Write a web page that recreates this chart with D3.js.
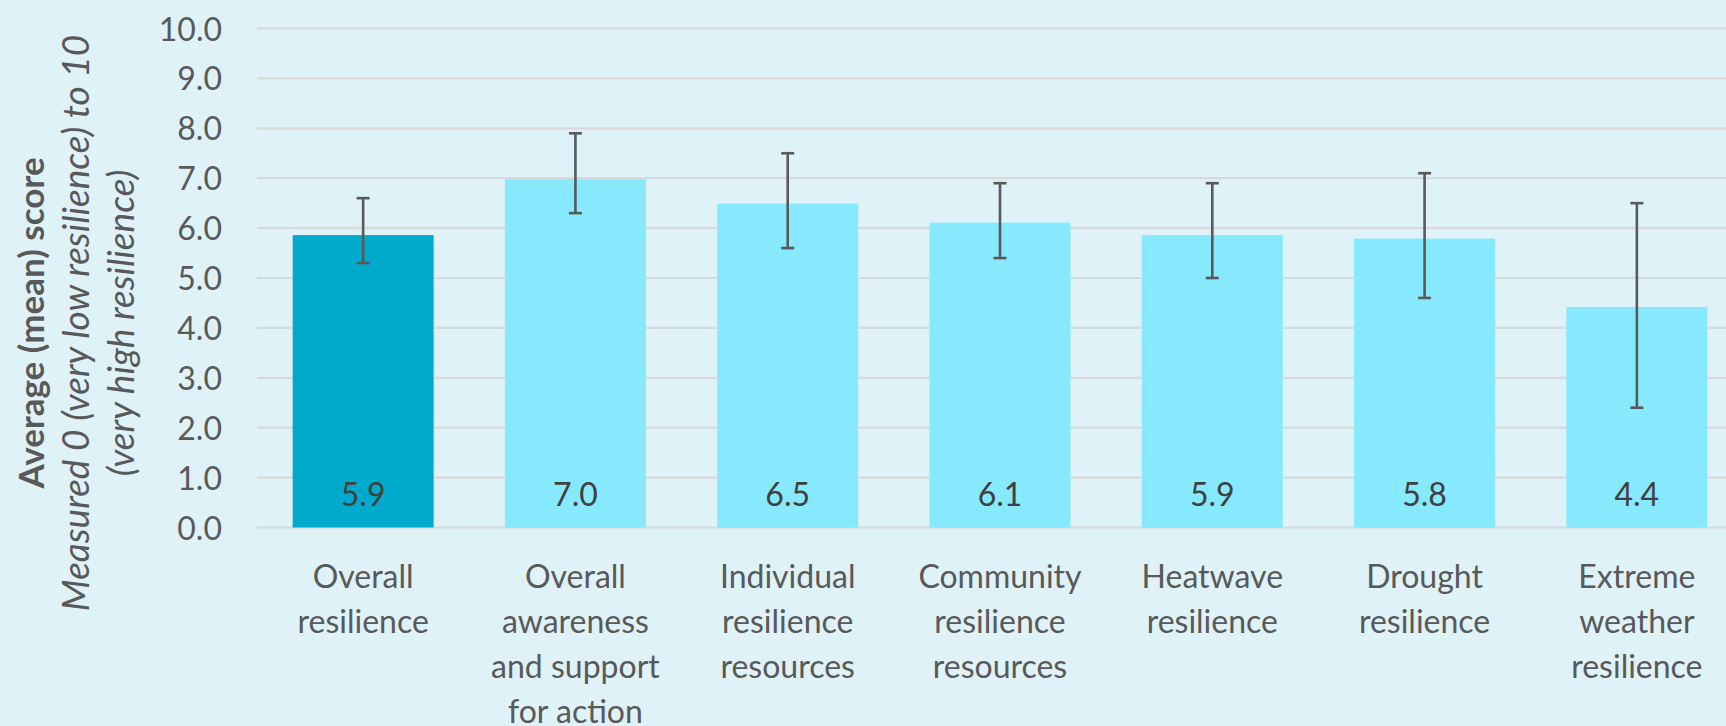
<!DOCTYPE html>
<html>
<head>
<meta charset="utf-8">
<script src="https://cdn.jsdelivr.net/npm/d3@7"></script>
<style>
  html, body { margin: 0; padding: 0; background: #DEF2F7; }
  svg { display: block; }
  text { font-family: Lato, "Noto Sans", sans-serif; }
</style>
</head>
<body>
<script>
// ---- data ----
const categories = [
  "Overall\nresilience",
  "Overall\nawareness\nand support\nfor action",
  "Individual\nresilience\nresources",
  "Community\nresilience\nresources",
  "Heatwave\nresilience",
  "Drought\nresilience",
  "Extreme\nweather\nresilience"
];
const meanScores = [5.86, 6.98, 6.49, 6.11, 5.86, 5.79, 4.42];
const errorLower = [5.3, 6.3, 5.6, 5.4, 5.0, 4.6, 2.4];
const errorUpper = [6.6, 7.9, 7.5, 6.9, 6.9, 7.1, 6.5];
const highlighted = [true, false, false, false, false, false, false];
const yTicks = [0, 1, 2, 3, 4, 5, 6, 7, 8, 9, 10];
const yTitleBold = "Average (mean) score";
const yTitleItalic = ["Measured 0 (very low resilience) to 10", "(very high resilience)"];

// ---- layout ----
const W = 1726, H = 726;
const textColor = "#595959";
const svg = d3.select("body").append("svg").attr("width", W).attr("height", H);
svg.append("rect").attr("width", W).attr("height", H).attr("fill", "#DEF2F7");

const x = d3.scaleBand().domain(categories).range([257, 1743]).paddingInner(0.336).paddingOuter(0.168);
const y = d3.scaleLinear().domain([0, 10]).range([527.5, 28.5]);

// gridlines
svg.append("g").selectAll("line").data(yTicks).join("line")
  .attr("x1", 257).attr("x2", 1743)
  .attr("y1", d => y(d)).attr("y2", d => y(d))
  .attr("stroke", "#D8D9D9").attr("stroke-width", 2.2);

// y axis labels
const yAxis = d3.axisLeft(y).tickValues(yTicks).tickFormat(d3.format(".1f")).tickSize(0).tickPadding(0);
const gy = svg.append("g").attr("transform", "translate(222,0)").call(yAxis);
gy.select(".domain").remove();
gy.selectAll("text").attr("font-size", 32).attr("fill", textColor)
  .attr("font-family", "Lato, sans-serif").attr("dy", "0.36em");

// bars
const data = categories.map((c, i) => ({c, v: meanScores[i], lo: errorLower[i], hi: errorUpper[i], h: highlighted[i]}));
svg.append("g").selectAll("rect").data(data).join("rect")
  .attr("x", d => x(d.c)).attr("width", x.bandwidth())
  .attr("y", d => y(d.v)).attr("height", d => y(0) - y(d.v))
  .attr("fill", d => d.h ? "#00AACD" : "#86E9FD");

// data labels
svg.append("g").selectAll("text").data(data).join("text")
  .attr("x", d => x(d.c) + x.bandwidth() / 2).attr("y", 506)
  .attr("text-anchor", "middle").attr("font-size", 32).attr("fill", "#404040")
  .text(d => d.v.toFixed(1));

// error bars
const eb = svg.append("g").attr("stroke", "#595959").attr("stroke-width", 2.6).attr("fill", "none");
data.forEach(d => {
  const cx = x(d.c) + x.bandwidth() / 2;
  eb.append("line").attr("x1", cx).attr("x2", cx).attr("y1", y(d.hi)).attr("y2", y(d.lo));
  eb.append("line").attr("x1", cx - 6.5).attr("x2", cx + 6.5).attr("y1", y(d.hi)).attr("y2", y(d.hi));
  eb.append("line").attr("x1", cx - 6.5).attr("x2", cx + 6.5).attr("y1", y(d.lo)).attr("y2", y(d.lo));
});

// category labels
const xAxis = d3.axisBottom(x).tickSize(0).tickPadding(0).tickFormat("");
const gx = svg.append("g").attr("transform", `translate(0,${y(0)})`).call(xAxis);
gx.select(".domain").remove();
gx.selectAll(".tick").each(function(d) {
  const t = d3.select(this).append("text").attr("text-anchor", "middle")
    .attr("font-size", 32).attr("fill", textColor).attr("font-family", "Lato, sans-serif");
  d.split("\n").forEach((line, i) => {
    t.append("tspan").attr("x", 0).attr("y", 60 + i * 45.3).text(line);
  });
});

// y title
const cy = 323;
svg.append("text").attr("transform", `translate(30,${cy}) rotate(-90)`)
  .attr("text-anchor", "middle").attr("dominant-baseline", "central")
  .attr("font-size", 35).attr("font-weight", "bold").attr("fill", textColor)
  .text(yTitleBold);
yTitleItalic.forEach((t, i) => {
  svg.append("text").attr("transform", `translate(${74 + i * 45},${cy}) rotate(-90)`)
    .attr("text-anchor", "middle").attr("dominant-baseline", "central")
    .attr("font-size", 37).attr("font-style", "italic").attr("fill", textColor)
    .text(t);
});
</script>
</body>
</html>
